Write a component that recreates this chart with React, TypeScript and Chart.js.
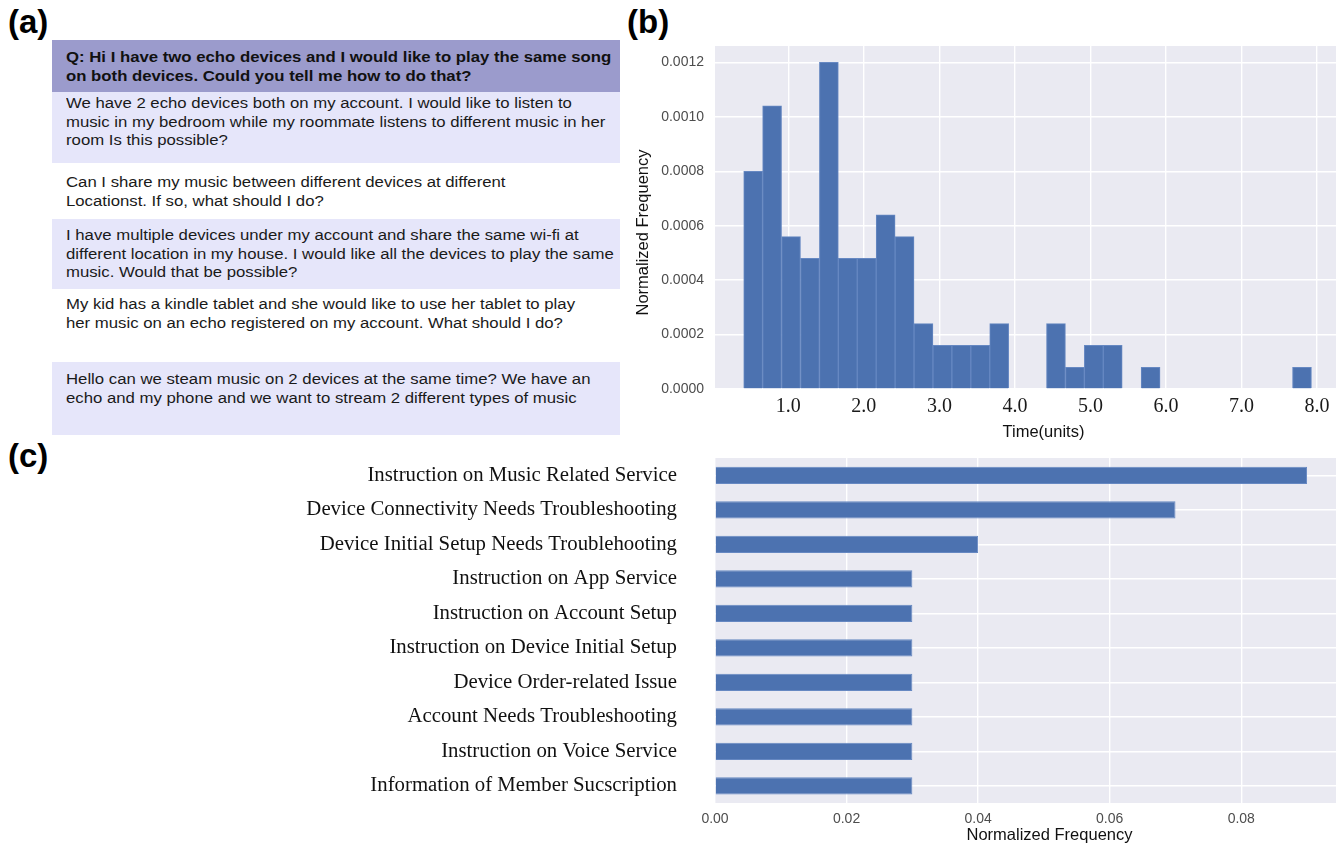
import React, { useEffect, useRef } from "react";
import { Chart, registerables } from "chart.js";

Chart.register(...registerables);

// ---------- Data ----------
// (b) histogram of time
const histBinStart = 0.41;
const histBinWidth = 0.2505;
const histDensity = [
  0.0008, 0.00104, 0.00056, 0.00048, 0.0012, 0.00048, 0.00048, 0.00064, 0.00056, 0.00024,
  0.00016, 0.00016, 0.00016, 0.00024, 0, 0, 0.00024, 0.00008, 0.00016, 0.00016,
  0, 0.00008, 0, 0, 0, 0, 0, 0, 0, 0.00008,
];
const histXTicks = [1, 2, 3, 4, 5, 6, 7, 8];
const histYTicks = [0, 0.0002, 0.0004, 0.0006, 0.0008, 0.001, 0.0012];
const histXTitle = "Time(units)";
const histYTitle = "Normalized Frequency";

// (c) intent categories
const intentLabels = [
  "Instruction on Music Related Service",
  "Device Connectivity Needs Troubleshooting",
  "Device Initial Setup Needs Troublehooting",
  "Instruction on App Service",
  "Instruction on Account Setup",
  "Instruction on Device Initial Setup",
  "Device Order-related Issue",
  "Account Needs Troubleshooting",
  "Instruction on Voice Service",
  "Information of Member Sucscription",
];
const intentFreq = [0.09, 0.07, 0.04, 0.03, 0.03, 0.03, 0.03, 0.03, 0.03, 0.03];
const intentXTicks = [0, 0.02, 0.04, 0.06, 0.08];
const intentXTitle = "Normalized Frequency";

// (a) example questions
const questionLines = [
  "Q: Hi I have two echo devices and I would like to play the same song",
  "on both devices. Could you tell me how to do that?",
];
const paraphrases = [
  [
    "We have 2 echo devices both on my account. I would like to listen to",
    "music in my bedroom while my roommate listens to different music in her",
    "room Is this possible?",
  ],
  ["Can I share my music between different devices at different", "Locationst. If so, what should I do?"],
  [
    "I have multiple devices under my account and share the same wi-fi at",
    "different location in my house. I would like all the devices to play the same",
    "music. Would that be possible?",
  ],
  [
    "My kid has a kindle tablet and she would like to use her tablet to play",
    "her music on an echo registered on my account. What should I do?",
  ],
  [
    "Hello can we steam music on 2 devices at the same time? We have an",
    "echo and my phone and we want to stream 2 different types of music",
  ],
];

// ---------- Styles ----------
const BAR = "#4C72B0";
const BAR_EDGE = "#6688c2";
const BG = "#EAEAF2";
const SANS = "'Liberation Sans', Arial, sans-serif";
const SERIF = "'Liberation Serif', 'Times New Roman', serif";

const bgPlugin = {
  id: "bgfill",
  beforeDraw(chart: any) {
    const { ctx, chartArea } = chart;
    if (!chartArea) return;
    ctx.save();
    ctx.fillStyle = BG;
    ctx.fillRect(chartArea.left, chartArea.top, chartArea.right - chartArea.left, chartArea.bottom - chartArea.top);
    ctx.restore();
  },
};

// axis titles drawn slightly off-centre, as in the source figure
function titlePlugin(opts: {
  xText: string;
  xDx: number;
  xFromBottom: number;
  yText?: string;
  yX?: number;
  yDy?: number;
  size: number;
}) {
  return {
    id: "axisTitles",
    afterDraw(chart: any) {
      const { ctx, chartArea, height } = chart;
      ctx.save();
      ctx.fillStyle = "#111";
      ctx.font = `${opts.size}px ${SANS}`;
      ctx.textAlign = "center";
      ctx.textBaseline = "middle";
      ctx.fillText(opts.xText, (chartArea.left + chartArea.right) / 2 + opts.xDx, height - opts.xFromBottom);
      if (opts.yText) {
        ctx.translate(opts.yX || 0, (chartArea.top + chartArea.bottom) / 2 + (opts.yDy || 0));
        ctx.rotate(-Math.PI / 2);
        ctx.fillText(opts.yText, 0, 0);
      }
      ctx.restore();
    },
  };
}

function noPad(s: any) {
  s.paddingTop = 0;
  s.paddingBottom = 0;
  s.paddingLeft = 0;
  s.paddingRight = 0;
}

function HistChart() {
  const ref = useRef<HTMLCanvasElement | null>(null);
  useEffect(() => {
    if (!ref.current) return;
    const chart = new Chart(ref.current, {
      type: "bar",
      data: {
        datasets: [
          {
            data: histDensity.map((d, i) => ({ x: histBinStart + histBinWidth * (i + 0.5), y: d > 0 ? d : null })),
            backgroundColor: BAR,
            borderColor: BAR_EDGE,
            borderWidth: 1,
            borderSkipped: "bottom",
            barPercentage: 1,
            categoryPercentage: 1,
          } as any,
        ],
      },
      options: {
        animation: false,
        responsive: true,
        maintainAspectRatio: false,
        layout: { padding: { top: 6, right: 7, left: 0, bottom: 0 } },
        plugins: { legend: { display: false }, tooltip: { enabled: false } },
        scales: {
          x: {
            type: "linear",
            min: 0.03,
            max: 8.25,
            offset: false,
            afterBuildTicks: (s: any) => {
              s.ticks = histXTicks.map((v) => ({ value: v }));
            },
            afterFit: (s: any) => {
              s.height = 56;
              noPad(s);
            },
            grid: { color: "#ffffff", lineWidth: 1.4, drawTicks: false, offset: false },
            border: { display: false },
            ticks: {
              padding: 6,
              color: "#1a1a1a",
              font: { family: SERIF, size: 20 },
              maxRotation: 0,
              callback: (v: any) => Number(v).toFixed(1),
            },
          },
          y: {
            min: 0,
            max: 0.00126,
            afterBuildTicks: (s: any) => {
              s.ticks = histYTicks.map((v) => ({ value: v }));
            },
            afterFit: (s: any) => {
              s.width = 85;
              noPad(s);
            },
            grid: { color: "#ffffff", lineWidth: 1.4, drawTicks: false },
            border: { display: false },
            ticks: {
              padding: 11,
              color: "#4d4d4d",
              font: { family: SANS, size: 14 },
              callback: (v: any) => Number(v).toFixed(4),
            },
          },
        },
      } as any,
      plugins: [
        bgPlugin,
        titlePlugin({ xText: histXTitle, xDx: 18, xFromBottom: 13, yText: histYTitle, yX: 13, yDy: 15, size: 16.5 }),
      ],
    });
    return () => chart.destroy();
  }, []);
  return <canvas ref={ref} />;
}

function IntentChart() {
  const ref = useRef<HTMLCanvasElement | null>(null);
  useEffect(() => {
    if (!ref.current) return;
    const chart = new Chart(ref.current, {
      type: "bar",
      data: {
        labels: intentLabels,
        datasets: [
          {
            data: intentFreq,
            backgroundColor: BAR,
            borderColor: BAR_EDGE,
            borderWidth: 1,
            borderSkipped: "left",
            barPercentage: 0.5,
            categoryPercentage: 1,
          } as any,
        ],
      },
      options: {
        indexAxis: "y",
        animation: false,
        responsive: true,
        maintainAspectRatio: false,
        layout: { padding: { top: 8, right: 7, left: 0, bottom: 0 } },
        plugins: { legend: { display: false }, tooltip: { enabled: false } },
        scales: {
          x: {
            type: "linear",
            min: 0,
            max: 0.0944,
            afterBuildTicks: (s: any) => {
              s.ticks = intentXTicks.map((v) => ({ value: v }));
            },
            afterFit: (s: any) => {
              s.height = 45;
              noPad(s);
            },
            grid: { color: "#ffffff", lineWidth: 1.4, drawTicks: false },
            border: { display: false },
            ticks: {
              padding: 8,
              color: "#4d4d4d",
              font: { family: SANS, size: 14 },
              maxRotation: 0,
              callback: (v: any) => Number(v).toFixed(2),
            },
          },
          y: {
            offset: true,
            afterFit: (s: any) => {
              s.width = 435;
              noPad(s);
            },
            grid: { color: "#ffffff", lineWidth: 1.4, drawTicks: false, offset: false },
            border: { display: false },
            ticks: {
              padding: 38,
              color: "#111",
              font: { family: SERIF, size: 20.8 },
            },
          },
        },
      } as any,
      plugins: [bgPlugin, titlePlugin({ xText: intentXTitle, xDx: 24, xFromBottom: 13, size: 16.5 })],
    });
    return () => chart.destroy();
  }, []);
  return <canvas ref={ref} />;
}

const panelLabel: React.CSSProperties = {
  position: "absolute",
  fontFamily: SANS,
  fontWeight: 700,
  fontSize: 33,
  lineHeight: "36px",
  color: "#000",
};

const rowBoxes = [
  { top: 92, height: 71, bg: "#E6E6FA", pad: 2 },
  { top: 163, height: 56, bg: "#FFFFFF", pad: 10 },
  { top: 219, height: 70, bg: "#E6E6FA", pad: 7 },
  { top: 289, height: 73, bg: "#FFFFFF", pad: 6 },
  { top: 362, height: 73, bg: "#E6E6FA", pad: 8 },
];

const textBlock: React.CSSProperties = {
  transform: "scaleX(1.08)",
  transformOrigin: "left top",
  whiteSpace: "nowrap",
};

export default function App() {
  return (
    <div style={{ position: "absolute", left: 0, top: 0, width: 1343, height: 848, background: "#fff", overflow: "hidden" }}>
      <div style={{ ...panelLabel, left: 8, top: 4 }}>(a)</div>
      <div style={{ ...panelLabel, left: 627, top: 4 }}>(b)</div>
      <div style={{ ...panelLabel, left: 8, top: 438 }}>(c)</div>

      {/* (a) table */}
      <div
        style={{
          position: "absolute",
          left: 52,
          top: 40,
          width: 568,
          height: 52,
          background: "#9B9BCC",
          boxSizing: "border-box",
          padding: "8px 0 0 14px",
          fontFamily: SANS,
          fontWeight: 700,
          fontSize: 15.5,
          lineHeight: "18.5px",
          color: "#111",
        }}
      >
        <div style={textBlock}>
          {questionLines.map((l, i) => (
            <div key={i}>{l}</div>
          ))}
        </div>
      </div>
      {paraphrases.map((lines, r) => (
        <div
          key={r}
          style={{
            position: "absolute",
            left: 52,
            top: rowBoxes[r].top,
            width: 568,
            height: rowBoxes[r].height,
            background: rowBoxes[r].bg,
            boxSizing: "border-box",
            padding: `${rowBoxes[r].pad}px 0 0 14px`,
            fontFamily: SANS,
            fontSize: 15.5,
            lineHeight: "18.5px",
            color: "#1a1a1a",
          }}
        >
          <div style={textBlock}>
            {lines.map((l, i) => (
              <div key={i}>{l}</div>
            ))}
          </div>
        </div>
      ))}

      {/* (b) histogram */}
      <div style={{ position: "absolute", left: 630, top: 40, width: 713, height: 405 }}>
        <HistChart />
      </div>

      {/* (c) horizontal bars */}
      <div style={{ position: "absolute", left: 280, top: 450, width: 1063, height: 398 }}>
        <IntentChart />
      </div>
    </div>
  );
}
